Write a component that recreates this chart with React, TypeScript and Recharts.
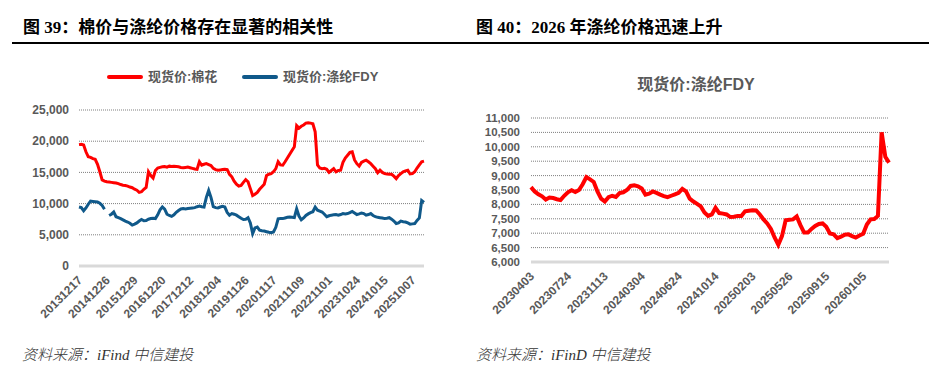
import { LineChart, Line, XAxis, YAxis, CartesianGrid } from "recharts";

// 图39：棉花 vs 涤纶FDY 现货价 (approx. every 4 weeks)
const longTickLabels = [
  "20131217", "20141226", "20151229", "20161220", "20171212", "20181204", "20191126",
  "20201117", "20211109", "20221101", "20231024", "20241015", "20251007",
];
const longTickIdx = [0, 12, 24, 36, 48, 60, 72, 84, 96, 108, 120, 132, 144];

const cotton = [
  19450, 19500, 19400, 18300, 17500, 17400, 17200, 17100, 16300, 15100,
  13800, 13600, 13500, 13450, 13400, 13350, 13300, 13200, 13050, 12950,
  12900, 12800, 12650, 12550, 12300, 12150, 11800, 11900, 12300, 12600,
  15100, 14500, 14100, 15300, 15700, 15800, 15900, 15950, 15850, 16000,
  15950, 16000, 15950, 15900, 15800, 15750, 15800, 15850, 15750, 15650,
  15550, 15500, 16700, 16150, 16300, 16400, 16250, 16100, 15650, 15450,
  15350, 15400, 15450, 15500, 15450, 14700, 14300, 13600, 13100, 12800,
  12900, 13400, 13850, 13500, 12400, 11300, 11500, 11800, 12300, 12700,
  13100, 14500, 14700, 14800, 15100, 15600, 16700, 16200, 16150, 16700,
  17300, 17900, 18500, 19100, 22500, 22100, 22400, 22600, 22900, 22950,
  22900, 22800, 21500, 16200, 15700, 15600, 15650, 15500, 15000, 15300,
  15600, 15100, 15300, 15350, 16600, 17300, 17750, 18200, 18300, 17000,
  16400, 16000, 16600, 16800, 16950, 16700, 16400, 16000, 15600, 14950,
  15350, 15000, 14800, 14750, 14700, 14700, 14400, 14000, 14500, 14800,
  15100, 15250, 15350, 14750, 14800, 15100, 15700, 16200, 16700, 16800,
];

const fdyLong: (number | null)[] = [
  9450, 9350, 8850, 9300, 9900, 10400, 10350, 10300, 10250, 10050,
  9700, 9100, null, 8100, 8300, 8650, 7900, 7750, 7600, 7400,
  7200, 7050, 6850, 6550, 6700, 6900, 7200, 7450, 7250, 7300,
  7500, 7600, 7650, 7600, 8200, 9000, 9450, 9100, 8300, 8100,
  7950, 8200, 8600, 8900, 9150, 9200, 9150, 9200, 9250, 9300,
  9350, 9500, 9600, 9500, 9450, 11000, 12100, 11000, 9500, 9350,
  9300, 9450, 9550, 9450, 8600, 8150, 8400, 8300, 8150, 7900,
  7650, 7450, 7500, 7750, 6900, 5200, 6100, 6250, 5750, 5650,
  5600, 5500, 5400, 5350, 5450, 6200, 7550, 7600, 7600, 7700,
  7800, 7850, 7800, 7750, 9150, 8000, 7400, 7700, 8100, 8350,
  8550, 8700, 9450, 8950, 8800, 8650, 8300, 7900, 8050, 8150,
  8200, 8250, 8150, 8250, 8400, 8350, 8400, 8550, 8750, 8500,
  8250, 8350, 8500, 8400, 8150, 8250, 8400, 8100, 7900, 7800,
  7750, 7700, 7600, 7650, 7750, 7500, 7200, 6800, 6900, 7200,
  7100, 7050, 6900, 6700, 6750, 6800, 7300, 7700, 10500, 10200,
];

const longYTicks = [0, 5000, 10000, 15000, 20000, 25000];

// 图40：涤纶FDY 现货价 since 2023 (approx. every 8 trading days)
const recentTickLabels = [
  "20230403", "20230724", "20231113", "20240304", "20240624",
  "20241014", "20250203", "20250526", "20250915", "20260105",
];
const recentTickIdx = [0, 10, 20, 30, 40, 50, 60, 70, 80, 90];

const fdyRecent = [
  8600, 8450, 8350, 8280, 8170, 8240, 8220, 8180, 8150, 8300,
  8420, 8490, 8430, 8500, 8700, 8950, 8870, 8780, 8450, 8200,
  8100, 8250, 8300, 8260, 8390, 8420, 8500, 8640, 8660, 8630,
  8550, 8340, 8370, 8450, 8400, 8340, 8290, 8250, 8300, 8350,
  8400, 8540, 8450, 8200, 8100, 8020, 7930, 7720, 7600, 7650,
  7880, 7700, 7680, 7650, 7560, 7570, 7600, 7600, 7760, 7780,
  7800, 7790, 7650, 7480, 7340, 7150, 6850, 6600, 6900, 7450,
  7470, 7480, 7580, 7280, 7020, 7020, 7150, 7250, 7320, 7340,
  7220, 6990, 6960, 6830, 6880, 6950, 6960, 6900, 6850, 6920,
  6980, 7300, 7480, 7490, 7600, 10500, 9650, 9450,
];

const recentYTicks = [6000, 6500, 7000, 7500, 8000, 8500, 9000, 9500, 10000, 10500, 11000];

const RED = "#ff0000";
const BLUE = "#10598a";
const GREY = "#595959";
const SANS = "'Liberation Sans', Arial, 'Noto Sans CJK SC', sans-serif";
const TITLE_FONT = "'Liberation Serif', 'Noto Sans CJK SC', serif";

const longData = cotton.map((v, i) => ({ i, cotton: v, fdy: fdyLong[i] }));
const recentData = fdyRecent.map((v, i) => ({ i, fdy: v }));

const fmt = (v: number) => v.toLocaleString("en-US");

function DateTick(props: any) {
  const { x, y, payload, ticks, labels } = props;
  const label = labels[ticks.indexOf(payload.value)];
  const ax = x + 4;
  const ay = y + 15;
  return (
    <text
      x={ax}
      y={ay}
      transform={`rotate(-45 ${ax} ${ay})`}
      textAnchor="end"
      fill={GREY}
      fontSize={12}
      fontWeight="bold"
      fontFamily={SANS}
    >
      {label}
    </text>
  );
}

function LegendItem({ color, text, left }: { color: string; text: string; left: number }) {
  return (
    <div style={{ position: "absolute", left, top: 69, display: "flex", alignItems: "center" }}>
      <div style={{ width: 36, height: 4, background: color, borderRadius: 2, marginRight: 5 }} />
      <span style={{ fontSize: 13, fontWeight: "bold", color: GREY, fontFamily: SANS, lineHeight: "16px" }}>
        {text}
      </span>
    </div>
  );
}

export default function App() {
  return (
    <div
      style={{
        position: "absolute",
        left: 0,
        top: 0,
        width: 952,
        height: 370,
        background: "#fff",
        overflow: "hidden",
      }}
    >
      <div style={{ position: "absolute", left: 23, top: 19, fontSize: 17, fontWeight: "bold", fontFamily: TITLE_FONT, lineHeight: "18px", color: "#000" }}>
        图 39：棉价与涤纶价格存在显著的相关性
      </div>
      <div style={{ position: "absolute", left: 476, top: 19, fontSize: 17, fontWeight: "bold", fontFamily: TITLE_FONT, lineHeight: "18px", color: "#000" }}>
        图 40：2026 年涤纶价格迅速上升
      </div>
      <div style={{ position: "absolute", left: 12, top: 42, width: 917, height: 2, background: "#000" }} />

      <LegendItem color={RED} text="现货价:棉花" left={107} />
      <LegendItem color={BLUE} text="现货价:涤纶FDY" left={242} />

      <div style={{ position: "absolute", left: 476, top: 76, width: 440, textAlign: "center", fontSize: 16, fontWeight: "bold", color: GREY, fontFamily: SANS, lineHeight: "18px" }}>
        现货价:涤纶FDY
      </div>

      <div style={{ position: "absolute", left: 0, top: 0 }}>
        <LineChart width={476} height={330} data={longData} margin={{ top: 110, right: 52, left: 0, bottom: 0 }}>
          <CartesianGrid vertical={false} stroke="#7f7f7f" strokeDasharray="1 1" />
          <XAxis
            dataKey="i"
            type="number"
            domain={[0, cotton.length - 1]}
            ticks={longTickIdx}
            interval={0}
            height={64}
            tickLine={false}
            tickSize={0}
            tickMargin={0}
            axisLine={{ stroke: "#d9d9d9", strokeWidth: 3 }}
            tick={<DateTick ticks={longTickIdx} labels={longTickLabels} />}
          />
          <YAxis
            domain={[0, 25000]}
            ticks={longYTicks}
            interval={0}
            width={79}
            axisLine={false}
            tickLine={false}
            tickSize={0}
            tickMargin={10}
            tickFormatter={fmt}
            tick={{ fill: GREY, fontSize: 12, fontWeight: "bold", fontFamily: SANS }}
          />
          <Line dataKey="cotton" type="linear" stroke={RED} strokeWidth={3} dot={false} isAnimationActive={false} />
          <Line dataKey="fdy" type="linear" stroke={BLUE} strokeWidth={3} dot={false} connectNulls={false} isAnimationActive={false} />
        </LineChart>
      </div>

      <div style={{ position: "absolute", left: 476, top: 0 }}>
        <LineChart width={476} height={330} data={recentData} margin={{ top: 118, right: 63, left: 0, bottom: 0 }}>
          <CartesianGrid vertical={false} stroke="#7f7f7f" strokeDasharray="1 1" />
          <XAxis
            dataKey="i"
            type="number"
            domain={[0, fdyRecent.length - 1]}
            ticks={recentTickIdx}
            interval={0}
            height={68}
            tickLine={false}
            tickSize={0}
            tickMargin={0}
            axisLine={{ stroke: "#d9d9d9", strokeWidth: 3 }}
            tick={<DateTick ticks={recentTickIdx} labels={recentTickLabels} />}
          />
          <YAxis
            domain={[6000, 11000]}
            ticks={recentYTicks}
            interval={0}
            width={55}
            axisLine={false}
            tickLine={false}
            tickSize={0}
            tickMargin={11}
            tickFormatter={fmt}
            tick={{ fill: GREY, fontSize: 11.5, fontWeight: "bold", fontFamily: SANS }}
          />
          <Line dataKey="fdy" type="linear" stroke={RED} strokeWidth={4} dot={false} isAnimationActive={false} />
        </LineChart>
      </div>

      <div style={{ position: "absolute", left: 22, top: 346, fontSize: 15, fontStyle: "italic", fontWeight: 300, fontFamily: TITLE_FONT, color: "#333", lineHeight: "18px" }}>
        资料来源：iFind 中信建投
      </div>
      <div style={{ position: "absolute", left: 476, top: 346, fontSize: 15, fontStyle: "italic", fontWeight: 300, fontFamily: TITLE_FONT, color: "#333", lineHeight: "18px" }}>
        资料来源：iFinD 中信建投
      </div>
    </div>
  );
}
